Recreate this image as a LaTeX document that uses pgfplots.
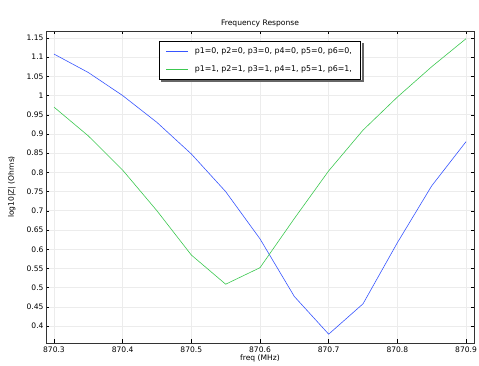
\documentclass[border=0pt]{standalone}
\usepackage{pgfplots}
\pgfplotsset{compat=1.18}
\usepackage{fontspec}
\setmainfont{DejaVu Sans}
\definecolor{cblue}{RGB}{55,85,255}
\definecolor{cgreen}{RGB}{60,200,80}
\begin{document}
\begin{tikzpicture}
\useasboundingbox (0,0) rectangle (479bp,366bp);
\begin{axis}[
  at={(46bp,23bp)}, anchor=south west,
  scale only axis,
  width=428bp, height=312bp,
  xmin=870.2884, xmax=870.9116,
  ymin=0.356, ymax=1.168,
  xtick={870.3,870.4,870.5,870.6,870.7,870.8,870.9},
  xticklabels={870.3,870.4,870.5,870.6,870.7,870.8,870.9},
  ytick={0.4,0.45,0.5,0.55,0.6,0.65,0.7,0.75,0.8,0.85,0.9,0.95,1,1.05,1.1,1.15},
  yticklabels={0.4,0.45,0.5,0.55,0.6,0.65,0.7,0.75,0.8,0.85,0.9,0.95,1,1.05,1.1,1.15},
  tick align=inside,
  tick style={black, thin},
  major tick length=3.5bp,
  grid=major,
  grid style={gray!15, line width=0.7pt},
  axis line style={black!80, line width=0.9pt},
  ticklabel style={font=\fontsize{7.6}{8}\selectfont},
  yticklabel style={xshift=1bp},
  title={Frequency Response},
  title style={font=\fontsize{7.6}{8}\selectfont, yshift=-6bp},
  xlabel={freq (MHz)},
  ylabel={log10|Z| (Ohms)},
  label style={font=\fontsize{7.6}{8}\selectfont},
  xlabel style={yshift=4.5bp},
  ylabel style={yshift=4bp},
  legend style={name=leg, at={(0.5,0.968)}, anchor=north, font=\fontsize{7.9}{8}\selectfont,
    draw=black, line width=0.9pt, fill=white,
    row sep=6bp, inner xsep=7bp, inner ysep=4.5bp},
  legend cell align=left,
  legend image code/.code={\draw[#1, line width=0.7pt] (0bp,0bp) -- (22bp,0bp);},
]
\addplot[color=cblue, line width=0.6pt] coordinates {
(870.3,1.108) (870.35,1.06) (870.4,1.0) (870.45,0.93) (870.5,0.848) (870.55,0.75)
(870.6,0.627) (870.65,0.477) (870.7,0.379) (870.75,0.458) (870.8,0.617) (870.85,0.765) (870.9,0.88)
};
\addlegendentry{\hspace{4bp}p1=0, p2=0, p3=0, p4=0, p5=0, p6=0,}
\addplot[color=cgreen, line width=0.6pt] coordinates {
(870.3,0.97) (870.35,0.895) (870.4,0.806) (870.45,0.70) (870.5,0.585) (870.55,0.509)
(870.6,0.552) (870.65,0.68) (870.7,0.804) (870.75,0.91) (870.8,0.996) (870.85,1.075) (870.9,1.148)
};
\addlegendentry{\hspace{4bp}p1=1, p2=1, p3=1, p4=1, p5=1, p6=1,}
\end{axis}
\fill[black!60] ([xshift=2.5bp,yshift=-0.45pt]leg.south west) rectangle ([xshift=2.5bp,yshift=-2.5bp]leg.south east);
\fill[black!60] ([xshift=0.45pt,yshift=-2.5bp]leg.north east) rectangle ([xshift=2.5bp,yshift=-2.5bp]leg.south east);
\end{tikzpicture}
\end{document}
